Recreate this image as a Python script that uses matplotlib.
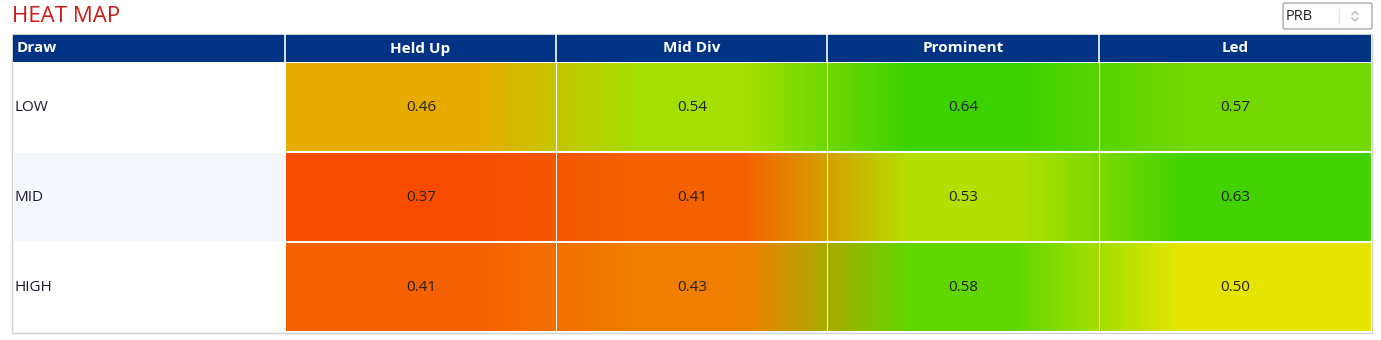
import numpy as np
import matplotlib.pyplot as plt
from matplotlib.colors import LinearSegmentedColormap
from matplotlib.patches import Rectangle, FancyBboxPatch

plt.rcParams['font.family'] = ['Open Sans', 'DejaVu Sans']

# data
draws = ['LOW', 'MID', 'HIGH']
positions = ['Held Up', 'Mid Div', 'Prominent', 'Led']
values = np.array([
    [0.46, 0.54, 0.64, 0.57],
    [0.37, 0.41, 0.53, 0.63],
    [0.41, 0.43, 0.58, 0.50],
])
metric = 'PRB'

# red -> amber -> yellow -> green scale
scale_vals = [0.37, 0.41, 0.43, 0.46, 0.50, 0.53, 0.54, 0.57, 0.58, 0.64]
scale_cols = ['#f74c00', '#f56200', '#f08000', '#e8ac00', '#e6e600',
              '#b4e000', '#a4e000', '#74d800', '#62d800', '#3cd200']
vmin, vmax = scale_vals[0], scale_vals[-1]
cmap = LinearSegmentedColormap.from_list(
    'heat', [((v - vmin) / (vmax - vmin), c) for v, c in zip(scale_vals, scale_cols)])

W, H = 1381, 340
fig = plt.figure(figsize=(W / 100, H / 100), dpi=100)
ax = fig.add_axes([0, 0, 1, 1])
ax.set_xlim(0, W)
ax.set_ylim(H, 0)
ax.set_axis_off()

# layout (pixels)
tbl_left, tbl_right = 13, 1371
col_edges = [13, 285, 556, 827, 1099, 1371]
head_top, head_bot = 35, 62
row_h = 90
gap = 1
fs = 11

ax.text(12, 17, 'HEAT MAP', color='#cc1a14', fontsize=16, va='center', ha='left')

# dropdown
ax.add_patch(FancyBboxPatch((1283, 3), 89, 26, boxstyle='round,pad=0,rounding_size=2',
                            fc='white', ec='#a8a8a8', lw=1))
ax.text(1286, 16, metric, fontsize=10.5, va='center', ha='left', color='#222222')
ax.plot([1339, 1339], [9, 23], color='#e4e4e4', lw=1)
ax.plot([1352, 1355, 1358], [14.5, 11.5, 14.5], color='#b8b8b8', lw=1)
ax.plot([1352, 1355, 1358], [18, 21, 18], color='#b8b8b8', lw=1)

# outer border
ax.add_patch(Rectangle((12.5, 33.5), 1359.5, 299, fc='white', ec='#d0d0d0', lw=1))

# header
ax.add_patch(Rectangle((tbl_left, head_top), tbl_right - tbl_left, head_bot - head_top,
                       fc='#003384', ec='none'))
for x in col_edges[1:-1]:
    ax.plot([x + 0.5, x + 0.5], [head_top, head_bot], color='white', lw=1.2)
ax.text(17, (head_top + head_bot) / 2, 'Draw', color='white', fontsize=fs,
        fontweight='bold', va='center', ha='left')
for j, name in enumerate(positions):
    cx = (col_edges[j + 1] + col_edges[j + 2]) / 2
    ax.text(cx, (head_top + head_bot) / 2, name, color='white', fontsize=fs,
            fontweight='bold', va='center', ha='center')

# body rows with blended cell gradients
for i, draw in enumerate(draws):
    y0 = head_bot + i * row_h
    y1 = y0 + row_h - gap
    if i % 2 == 1:
        ax.add_patch(Rectangle((tbl_left, y0 + gap), col_edges[1] - tbl_left, row_h - gap,
                               fc='#f3f7fc', ec='none'))
    ax.text(15, (y0 + y1) / 2 + 1, draw, fontsize=fs, va='center', ha='left',
            color='#1a1a2e')
    cols = [np.array(cmap((v - vmin) / (vmax - vmin))[:3]) for v in values[i]]
    for j, v in enumerate(values[i]):
        c = cols[j]
        left = (cols[j - 1] + c) / 2 if j > 0 else c
        right = (cols[j + 1] + c) / 2 if j < len(cols) - 1 else c
        x0 = col_edges[j + 1] + 1
        x1 = col_edges[j + 2]
        n = int(x1 - x0)
        t = np.linspace(0, 1, n)
        stops = [0, 0.3, 0.7, 1.0]
        grad = np.stack([np.interp(t, stops, [left[k], c[k], c[k], right[k]])
                         for k in range(3)], axis=-1)
        ax.imshow(grad[np.newaxis, :, :], extent=(x0, x1, y1, y0 + gap),
                  aspect='auto', interpolation='bilinear', zorder=2)
        ax.text((x0 + x1) / 2, (y0 + y1) / 2 + 1, f'{v:.2f}', fontsize=fs,
                va='center', ha='center', color='#222222', zorder=3)

ax.set_xlim(0, W)
ax.set_ylim(H, 0)
fig.savefig('out.png', dpi=100)
